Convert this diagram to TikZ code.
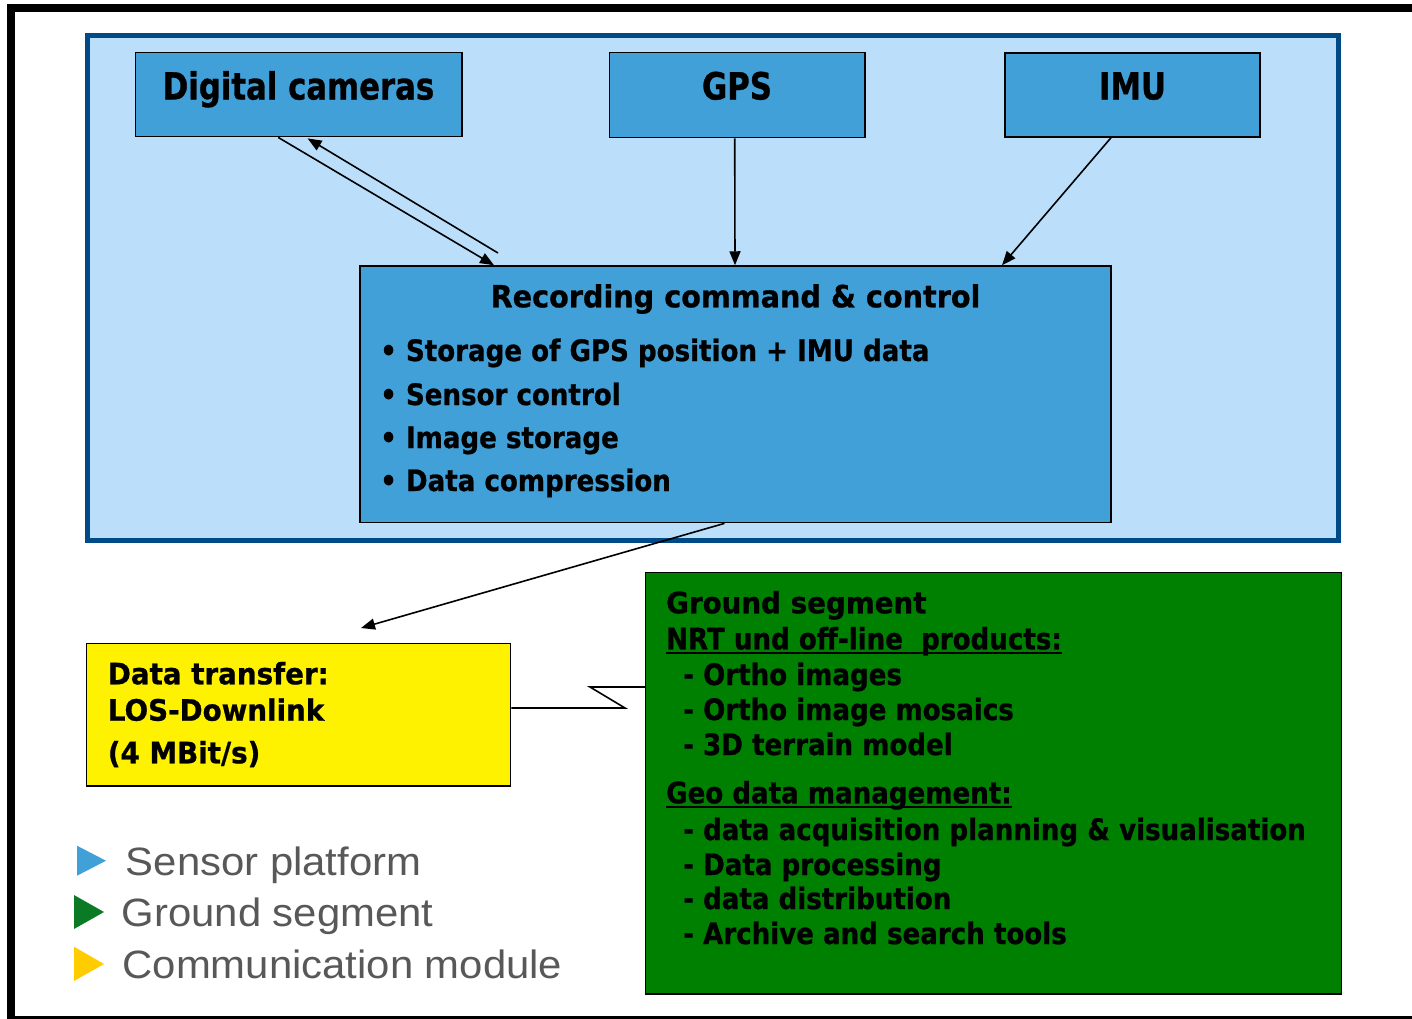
\documentclass[tikz,border=0pt]{standalone}
\usepackage{fontspec}
\usetikzlibrary{arrows.meta,calc}
\newfontfamily\bfam[FakeStretch=0.82,FakeBold=0.8]{DejaVu Sans Bold}
\newfontfamily\bfamw[FakeStretch=0.94,FakeBold=0.8]{DejaVu Sans Bold}
\newfontfamily\bfamm[FakeStretch=0.885,FakeBold=0.8]{DejaVu Sans Bold}
\newfontfamily\lfam[FakeStretch=1.06]{Liberation Sans}
\definecolor{platfill}{HTML}{BBDFFB}
\definecolor{platdraw}{HTML}{004A88}
\definecolor{boxblue}{HTML}{42A0D8}
\definecolor{gsgreen}{HTML}{008000}
\definecolor{leggreen}{HTML}{0B7A25}
\definecolor{legyellow}{HTML}{FFCC00}
\definecolor{leggrey}{HTML}{585858}
\begin{document}
\begin{tikzpicture}[x=1pt,y=-1pt,
  box/.style={draw=black,line width=1.4pt,inner sep=0pt,rectangle},
  bigtxt/.style={inner sep=0pt,font=\bfam\fontsize{37.5}{40}\selectfont},
  midtxt/.style={inner sep=0pt,font=\bfamw\fontsize{30.5}{34}\selectfont},
  smtxt/.style={inner sep=0pt,anchor=base west,font=\bfamm\fontsize{29.5}{33}\selectfont},
  wtxt/.style={inner sep=0pt,anchor=base west,font=\bfamw\fontsize{29.5}{33}\selectfont},
  legtxt/.style={inner sep=0pt,anchor=base west,text=leggrey,font=\lfam\fontsize{39.5}{44}\selectfont},
  arr/.style={line width=1.6pt,-{Triangle[length=14pt,width=11pt]}},
  conn/.style={line width=1.6pt},
  uline/.style={line width=2pt}]
\useasboundingbox (0,0) rectangle (1412,1018);
\clip (0,0) rectangle (1412,1018);
% outer frame
\draw[line width=8.5pt] (10.8,7.8) rectangle (1440,1020.5);
% sensor platform
\node[draw=platdraw,fill=platfill,line width=5pt,inner sep=0pt,minimum width=1250.4pt,minimum height=505pt] (plat) at (713,288.3) {};
% boxes
\node[box,fill=boxblue,minimum width=326.7pt,minimum height=84pt] (cam) at (298.7,94.7) {};
\node[box,fill=boxblue,minimum width=255.7pt,minimum height=85pt] (gps) at (737.2,95.2) {};
\node[box,fill=boxblue,minimum width=255pt,minimum height=84pt] (imu) at (1132.5,95) {};
\node[box,fill=boxblue,minimum width=751pt,minimum height=256.7pt] (rec) at (735.5,394.3) {};
\node[box,fill=yellow,minimum width=424pt,minimum height=142.7pt] (data) at (298.7,714.7) {};
\node[box,fill=gsgreen,minimum width=695.6pt,minimum height=421.7pt] (green) at (993.5,783.2) {};
% box titles
\node[bigtxt,anchor=base] (camt) at (298.5,99.5) {Digital cameras};
\node[bigtxt,anchor=base] (gpst) at (737,99.5) {GPS};
\node[bigtxt,anchor=base] (imut) at (1132.5,99.5) {IMU};
\node[midtxt,anchor=base] (rect) at (735.5,307.3) {Recording command \& control};
\node[smtxt] (r1) at (380,361) {• Storage of GPS position + IMU data};
\node[smtxt] (r2) at (380,405) {• Sensor control};
\node[smtxt] (r3) at (380,448) {• Image storage};
\node[smtxt] (r4) at (380,491) {• Data compression};
% data transfer
\node[wtxt] (d1) at (107.7,684.3) {Data transfer:};
\node[wtxt] (d2) at (107.7,720.7) {LOS-Downlink};
\node[wtxt] (d3) at (107.7,763.3) {(4 MBit/s)};
% ground segment
\node[wtxt] (g0) at (666,613.3) {Ground segment};
\node[smtxt] (g1) at (666,649.3) {NRT und off-line\ \ products:};
\node[smtxt] (g2) at (683,685) {- Ortho images};
\node[smtxt] (g3) at (683,720) {- Ortho image mosaics};
\node[smtxt] (g4) at (683,755) {- 3D terrain model};
\node[smtxt] (g5) at (666,803.3) {Geo data management:};
\node[smtxt] (g6) at (683,840) {- data acquisition planning \& visualisation};
\node[smtxt] (g7) at (683,875) {- Data processing};
\node[smtxt] (g8) at (683,909) {- data distribution};
\node[smtxt] (g9) at (683,944) {- Archive and search tools};
\draw[uline] ([yshift=-4pt]g1.base west) -- ([yshift=-4pt]g1.base east);
\draw[uline] ([yshift=-3.4pt]g5.base west) -- ([yshift=-3.4pt]g5.base east);
% connectors
\draw[arr] ([xshift=-20.5pt]cam.south) -- ([xshift=-241.5pt]rec.north);
\coordinate (c2) at (498,253);
\draw[arr,shorten >=-2pt] (c2) -- ([xshift=10.6pt,yshift=-2pt]cam.south);
\draw[arr] ([xshift=-2.5pt]gps.south) -- ([xshift=-0.5pt]rec.north);
\draw[arr] ([xshift=-21.5pt]imu.south) -- ([xshift=266.5pt]rec.north);
\coordinate (dtip) at (361,628);
\draw[arr] ([xshift=-11pt]rec.south) -- (dtip);
\coordinate (z1) at (625,708);
\coordinate (z2) at (590,687);
\draw[conn] (data.east |- z1) -- (z1) -- (z2) -- (z2 -| green.west);
% legend
\fill[boxblue] (77,845.7) -- (77,875.7) -- (106,860.7) -- cycle;
\fill[leggreen] (74,895) -- (74,929) -- (104,912) -- cycle;
\fill[legyellow] (74,946.7) -- (74,981) -- (104,964) -- cycle;
\node[legtxt] (l1) at (125.6,875) {Sensor platform};
\node[legtxt] (l2) at (121.5,926) {Ground segment};
\node[legtxt] (l3) at (122.3,978.3) {Communication module};
\end{tikzpicture}
\end{document}
